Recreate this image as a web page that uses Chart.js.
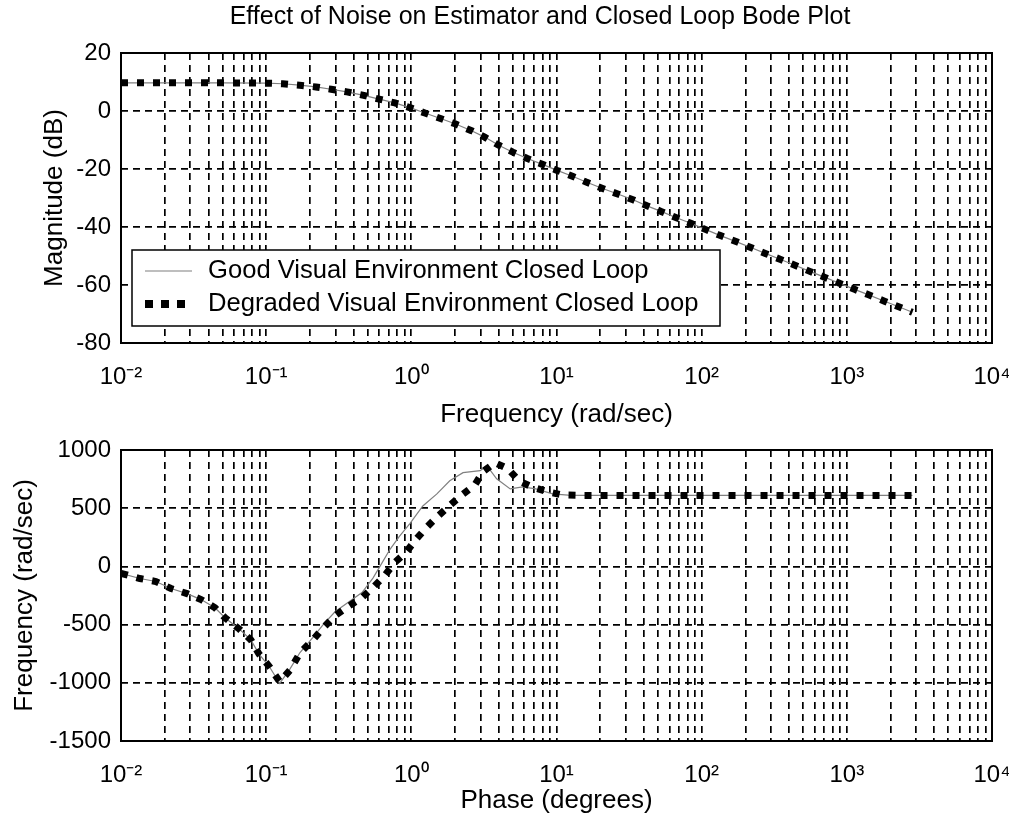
<!DOCTYPE html>
<html>
<head>
<meta charset="utf-8">
<script src="https://cdn.jsdelivr.net/npm/chart.js@4.4.1/dist/chart.umd.min.js"></script>
<style>
  html, body { margin: 0; padding: 0; background: #fff; }
  body { width: 1009px; height: 823px; position: relative; overflow: hidden; }
  #wrapA { position: absolute; left: 0; top: 0; width: 1009px; height: 440px; }
  #wrapB { position: absolute; left: 0; top: 420px; width: 1009px; height: 403px; }
  canvas { display: block; }
</style>
</head>
<body>
<div id="wrapA"><canvas id="magChart" width="1009" height="440"></canvas></div>
<div id="wrapB"><canvas id="phaseChart" width="1009" height="403"></canvas></div>
<script>
// ---------------- DATA ----------------
const chartTitle = 'Effect of Noise on Estimator and Closed Loop Bode Plot';
const seriesNames = ['Good Visual Environment Closed Loop', 'Degraded Visual Environment Closed Loop'];

// Magnitude plot (rad/sec vs dB)
const magFreq = [0.01, 0.02, 0.05, 0.1, 0.13, 0.17, 0.22, 0.28, 0.36, 0.47, 0.61, 0.77, 1.0, 1.24, 1.57, 2.0, 2.6, 3.2, 4.0, 5.0, 6.3, 8.0, 10, 13, 16, 21, 27, 34, 42, 53, 67, 85, 108, 132, 176, 216, 277, 350, 435, 556, 700, 890, 1130, 1400, 1800, 2300, 2830];
const magGood = [9.7, 9.7, 9.7, 9.6, 9.4, 8.9, 8.3, 7.5, 6.6, 5.4, 4.0, 2.8, 1.0, -0.7, -2.5, -4.4, -6.8, -9.0, -11.8, -14.2, -16.4, -18.4, -20.4, -22.6, -24.5, -26.8, -28.8, -30.7, -32.7, -34.7, -36.8, -38.8, -41.0, -42.8, -45.2, -47.0, -49.2, -51.2, -53.1, -55.3, -57.3, -59.4, -61.5, -63.3, -65.5, -67.6, -69.4];
const magDegraded = [9.7, 9.7, 9.7, 9.6, 9.4, 8.9, 8.3, 7.5, 6.6, 5.4, 4.0, 2.8, 1.0, -0.7, -2.5, -4.4, -6.8, -9.0, -11.8, -14.2, -16.4, -18.4, -20.4, -22.6, -24.5, -26.8, -28.8, -30.7, -32.7, -34.7, -36.8, -38.8, -41.0, -42.8, -45.2, -47.0, -49.2, -51.2, -53.1, -55.3, -57.3, -59.4, -61.5, -63.3, -65.5, -67.6, -69.4];

// Lower plot
const phaseFreqGood = [0.01, 0.0135, 0.0174, 0.0221, 0.0285, 0.0356, 0.0444, 0.052, 0.065, 0.0785, 0.0893, 0.1045, 0.124, 0.146, 0.171, 0.21, 0.247, 0.298, 0.366, 0.457, 0.544, 0.608, 0.713, 0.83, 0.98, 1.2, 1.5, 1.84, 2.27, 2.98, 3.31, 3.87, 4.8, 5.84, 7.2, 9.4, 12, 15, 30, 100, 300, 1000, 2830];
const phaseGood = [-60, -104, -130, -190, -234, -285, -355, -441, -536, -631, -753, -856, -1005, -880, -740, -610, -500, -390, -310, -225, -100, 0, 147, 260, 370, 519, 623, 735, 805, 822, 865, 753, 666, 683, 666, 623, 612, 610, 610, 610, 610, 610, 610];
const phaseFreqDegraded = [0.01, 0.0135, 0.0174, 0.0221, 0.0285, 0.0356, 0.0444, 0.052, 0.065, 0.0785, 0.0893, 0.1045, 0.124, 0.146, 0.171, 0.21, 0.247, 0.298, 0.366, 0.457, 0.544, 0.648, 0.771, 0.918, 1.08, 1.28, 1.5, 1.82, 2.23, 2.74, 3.11, 3.77, 4.63, 5.51, 6.77, 8.73, 10.9, 15, 30, 100, 300, 1000, 2830];
const phaseDegraded = [-60, -104, -130, -190, -234, -285, -355, -441, -536, -631, -753, -856, -990, -891, -744, -631, -528, -424, -346, -268, -182, -86, 35, 121, 234, 337, 424, 519, 614, 700, 813, 891, 839, 735, 683, 640, 614, 610, 610, 610, 610, 610, 610];

// Axes
const xExponents = [-2, -1, 0, 1, 2, 3, 4];
const supers = {'-': '\u207B', '0': '\u2070', '1': '\u00B9', '2': '\u00B2', '3': '\u00B3', '4': '\u2074'};
const magAxis = { min: -80, max: 20, step: 20, title: 'Magnitude (dB)', xTitle: 'Frequency (rad/sec)' };
const phaseAxis = { min: -1500, max: 1000, step: 500, title: 'Frequency (rad/sec)', xTitle: 'Phase (degrees)' };

// ---------------- HELPERS ----------------
const FONT = "'Liberation Sans', Arial, Helvetica, sans-serif";
function pts(xs, ys) { return xs.map((x, i) => ({ x: x, y: ys[i] })); }
function expLabel(e) { return '10' + String(e).split('').map(c => supers[c]).join(''); }
function logTickValues() {
  const vals = [];
  for (let k = 0; k < xExponents.length - 1; k++) {
    const base = Math.pow(10, xExponents[k]);
    for (let m = 1; m <= 9; m++) vals.push({ value: m * base });
  }
  vals.push({ value: Math.pow(10, xExponents[xExponents.length - 1]) });
  return vals;
}

// shift the title block so it is centred like the original figure's title
const titleShiftPlugin = {
  id: 'titleShift',
  afterLayout(chart) {
    if (chart.titleBlock && chart.canvas.id === 'magChart') {
      chart.titleBlock.left += 44;
      chart.titleBlock.right += 44;
    }
  }
};

const framePlugin = {
  id: 'frame',
  afterDatasetsDraw(chart) {
    const { ctx, chartArea: a } = chart;
    ctx.save();
    ctx.strokeStyle = '#000';
    ctx.lineWidth = 2;
    ctx.strokeRect(a.left, a.top, a.right - a.left, a.bottom - a.top);
    ctx.restore();
  }
};

const legendPlugin = {
  id: 'boxLegend',
  afterDraw(chart) {
    if (chart.canvas.id !== 'magChart') return;
    const ctx = chart.ctx;
    ctx.save();
    ctx.fillStyle = '#fff';
    ctx.fillRect(132, 250, 588, 76);
    ctx.strokeStyle = '#000';
    ctx.lineWidth = 1.5;
    ctx.strokeRect(132, 250, 588, 76);
    // sample lines
    ctx.strokeStyle = '#7f7f7f';
    ctx.lineWidth = 1.2;
    ctx.beginPath(); ctx.moveTo(145, 271); ctx.lineTo(192, 271); ctx.stroke();
    ctx.fillStyle = '#000';
    [145, 161, 177].forEach(x => ctx.fillRect(x, 300, 8, 8));
    ctx.font = '25.6px ' + FONT;
    ctx.textBaseline = 'middle';
    ctx.fillText(seriesNames[0], 208, 271);
    ctx.fillText(seriesNames[1], 208, 304);
    ctx.restore();
  }
};

function makeChart(id, cfg) {
  const isTop = id === 'magChart';
  return new Chart(document.getElementById(id), {
    type: 'line',
    data: {
      datasets: [
        {
          label: seriesNames[1],
          data: cfg.degraded,
          borderColor: '#000',
          borderWidth: 7,
          borderDash: [7, 9],
          borderCapStyle: 'butt',
          pointRadius: 0,
          tension: 0,
          fill: false
        },
        {
          label: seriesNames[0],
          data: cfg.good,
          borderColor: '#808080',
          borderWidth: 1.2,
          pointRadius: 0,
          tension: 0,
          fill: false
        }
      ]
    },
    options: {
      responsive: false,
      animation: false,
      events: [],
      layout: { padding: { left: 0, right: 17, top: isTop ? 0 : 30, bottom: 0 } },
      plugins: {
        legend: { display: false },
        tooltip: { enabled: false },
        title: {
          display: isTop,
          text: chartTitle,
          color: '#000',
          font: { family: FONT, size: 25, weight: 'normal' },
          padding: { top: 2, bottom: 21 }
        }
      },
      scales: {
        x: {
          type: 'logarithmic',
          min: 0.01,
          max: 10000,
          afterBuildTicks(scale) { scale.ticks = logTickValues(); },
          afterFit(scale) { scale.height = cfg.xHeight; scale.paddingLeft = 0; scale.paddingRight = 0; },
          ticks: {
            autoSkip: false,
            maxRotation: 0,
            color: '#000',
            padding: 20,
            font: { family: FONT, size: 24 },
            callback(v) {
              const l = Math.log10(v);
              return Math.abs(l - Math.round(l)) < 1e-6 ? expLabel(Math.round(l)) : '';
            }
          },
          grid: { color: '#000', lineWidth: 1.7, drawTicks: false },
          border: { display: false, dash: [7, 5] },
          title: {
            display: true,
            text: cfg.axis.xTitle,
            color: '#000',
            font: { family: FONT, size: 26 },
            padding: { top: 0, bottom: cfg.xTitlePad }
          }
        },
        y: {
          type: 'linear',
          min: cfg.axis.min,
          max: cfg.axis.max,
          afterFit(scale) { scale.width = 121; scale.paddingTop = 0; scale.paddingBottom = 0; },
          ticks: {
            stepSize: cfg.axis.step,
            color: '#000',
            padding: 10,
            font: { family: FONT, size: 24 },
            callback(v) { return String(v); }
          },
          grid: { color: '#000', lineWidth: 1.7, drawTicks: false },
          border: { display: false, dash: [7, 5] },
          title: {
            display: true,
            text: cfg.axis.title,
            color: '#000',
            font: { family: FONT, size: 26 },
            padding: { top: cfg.yTitlePad, bottom: 0 }
          }
        }
      }
    },
    plugins: [titleShiftPlugin, framePlugin, legendPlugin]
  });
}

makeChart('magChart', {
  good: pts(magFreq, magGood),
  degraded: pts(magFreq, magDegraded),
  axis: magAxis,
  xHeight: 97,
  xTitlePad: 10,
  yTitlePad: 39
});

makeChart('phaseChart', {
  good: pts(phaseFreqGood, phaseGood),
  degraded: pts(phaseFreqDegraded, phaseDegraded),
  axis: phaseAxis,
  xHeight: 82,
  xTitlePad: 7,
  yTitlePad: 9
});
</script>
</body>
</html>
